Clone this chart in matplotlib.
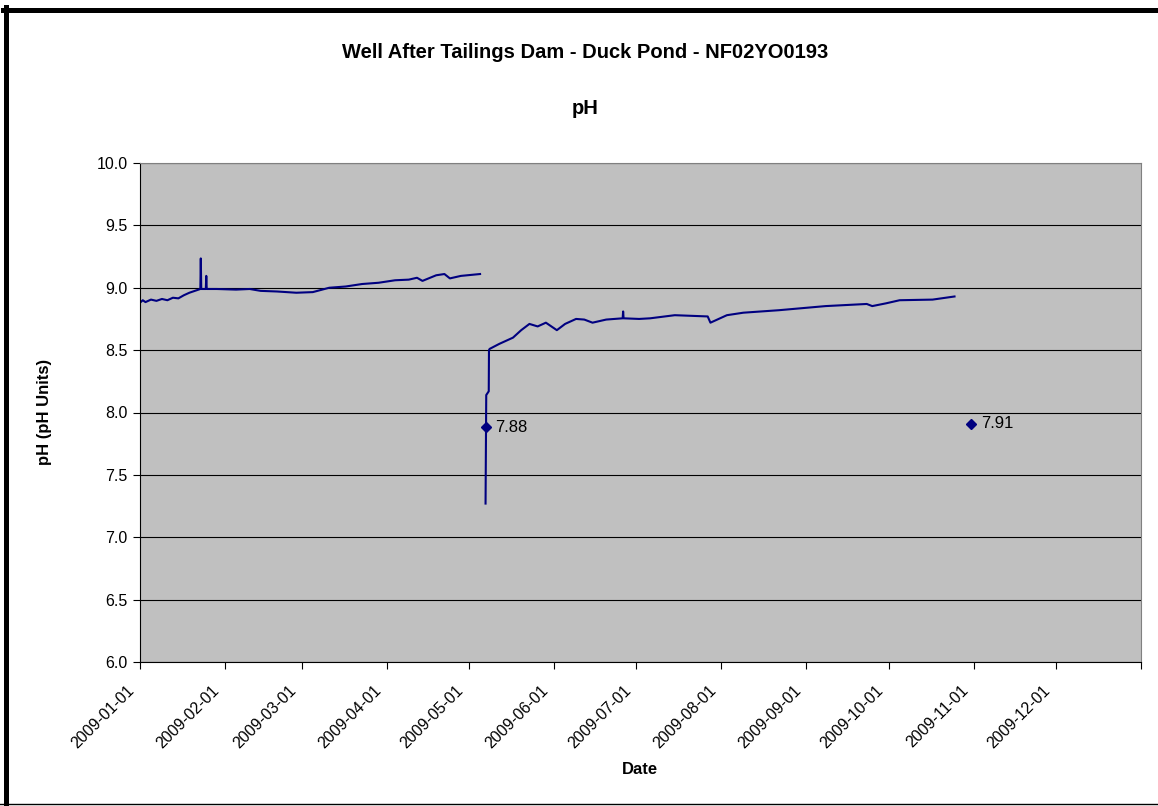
import matplotlib
matplotlib.use('Agg')
import matplotlib.pyplot as plt
import matplotlib.dates as mdates
import matplotlib.transforms as mtransforms
from matplotlib.lines import Line2D
import pandas as pd

plt.rcParams['font.family'] = ['Liberation Sans', 'DejaVu Sans']

# continuous logger, before the gap
dates_a = ['2009-01-01', '2009-01-02', '2009-01-03', '2009-01-05', '2009-01-07', '2009-01-09',
           '2009-01-11', '2009-01-13', '2009-01-15', '2009-01-17', '2009-01-19',
           '2009-01-21', '2009-01-23 00:00', '2009-01-23 04:00', '2009-01-23 08:00',
           '2009-01-25 00:00', '2009-01-25 04:00', '2009-01-25 08:00', '2009-01-29',
           '2009-02-05', '2009-02-10', '2009-02-14', '2009-02-20', '2009-02-27', '2009-03-05',
           '2009-03-11', '2009-03-17', '2009-03-23', '2009-03-29', '2009-04-04', '2009-04-09',
           '2009-04-12', '2009-04-14', '2009-04-19', '2009-04-22', '2009-04-24', '2009-04-28',
           '2009-05-05']
ph_a = [8.88, 8.90, 8.885, 8.905, 8.895, 8.91,
        8.90, 8.92, 8.915, 8.94, 8.96,
        8.975, 8.99, 9.235, 8.99,
        8.99, 9.095, 8.99, 8.99,
        8.985, 8.99, 8.975, 8.97, 8.96, 8.965,
        9.00, 9.01, 9.03, 9.04, 9.06, 9.065,
        9.08, 9.055, 9.10, 9.11, 9.075, 9.095,
        9.11]

# continuous logger, after the gap
dates_b = ['2009-05-07 00:00', '2009-05-07 06:00', '2009-05-08 04:00', '2009-05-08 06:00',
           '2009-05-08 12:00', '2009-05-12', '2009-05-17', '2009-05-20', '2009-05-23',
           '2009-05-26', '2009-05-29', '2009-06-02', '2009-06-05', '2009-06-09', '2009-06-12',
           '2009-06-15', '2009-06-20', '2009-06-26 00:00', '2009-06-26 04:00',
           '2009-06-26 08:00', '2009-07-02', '2009-07-06', '2009-07-15', '2009-07-27',
           '2009-07-28', '2009-08-03', '2009-08-09', '2009-08-22', '2009-09-08', '2009-09-23',
           '2009-09-25', '2009-09-30', '2009-10-05', '2009-10-17', '2009-10-25']
ph_b = [7.27, 8.14, 8.17, 8.50,
        8.51, 8.55, 8.60, 8.66, 8.71,
        8.69, 8.72, 8.66, 8.71, 8.75, 8.745,
        8.72, 8.745, 8.755, 8.81,
        8.755, 8.75, 8.755, 8.78, 8.77,
        8.72, 8.78, 8.80, 8.82, 8.853, 8.87,
        8.853, 8.875, 8.90, 8.905, 8.93]

# lab samples
sample_dates = ['2009-05-07', '2009-10-31']
sample_ph = [7.88, 7.91]

navy = '#000080'
W, H = 1158, 806

fig = plt.figure(figsize=(W / 100, H / 100), dpi=100)
ax = fig.add_axes([140 / W, 1 - 662 / H, 1001 / W, 499 / H])
ax.set_facecolor('#C0C0C0')

ax.plot(pd.to_datetime(dates_a, format='mixed'), ph_a, color=navy, lw=1.5)
ax.plot(pd.to_datetime(dates_b, format='mixed'), ph_b, color=navy, lw=1.5)
sd = pd.to_datetime(sample_dates)
ax.plot(sd, sample_ph, 'D', color=navy, ms=5.5, ls='none', zorder=5)
for d, v in zip(sd, sample_ph):
    ax.annotate('%.2f' % v, (mdates.date2num(d), v), xytext=(7, 0), textcoords='offset points',
                va='center', ha='left', fontsize=12)

ax.set_xlim(pd.Timestamp('2009-01-01'), pd.Timestamp('2010-01-01'))
ax.set_ylim(6, 10)
ax.set_yticks([6.0, 6.5, 7.0, 7.5, 8.0, 8.5, 9.0, 9.5, 10.0])
ax.yaxis.set_major_formatter(plt.FormatStrFormatter('%.1f'))
months = pd.date_range('2009-01-01', '2010-01-01', freq='MS')
ax.set_xticks(mdates.date2num(months))
ax.set_xticklabels([m.strftime('%Y-%m-%d') for m in months[:-1]] + [''])
ax.tick_params(axis='y', labelsize=11.5, length=5, direction='out', pad=4)
ax.tick_params(axis='x', labelsize=11.5, length=5, direction='out', pad=13.5)
shift = mtransforms.ScaledTranslation(-8 / 100, 0, fig.dpi_scale_trans)
for lab in ax.get_xticklabels():
    lab.set_rotation(45)
    lab.set_ha('right')
    lab.set_va('center')
    lab.set_rotation_mode('anchor')
    lab.set_transform(lab.get_transform() + shift)
ax.grid(axis='y', color='black', lw=0.8)
ax.set_axisbelow(True)
for s in ['top', 'right']:
    ax.spines[s].set_color('#808080')
for s in ['left', 'bottom']:
    ax.spines[s].set_color('black')

fig.text(585 / W, 1 - 58 / H, 'Well After Tailings Dam - Duck Pond - NF02YO0193',
         ha='center', va='baseline', fontsize=14.5, fontweight='bold')
fig.text(585 / W, 1 - 114 / H, 'pH', ha='center', va='baseline', fontsize=14.5, fontweight='bold')
fig.text(44 / W, 1 - 412 / H, 'pH (pH Units)', ha='center', va='center', rotation=90,
         fontsize=12, fontweight='bold')
fig.text(640 / W, 1 - 770 / H, 'Date', ha='center', va='center', fontsize=12, fontweight='bold')

# chart frame (left and top thick, bottom thin; right side cut off)
fig.lines.append(Line2D([5.5 / W, 5.5 / W], [0, 1 - 7 / H], transform=fig.transFigure,
                        color='black', lw=3.6))
fig.lines.append(Line2D([3 / W, 1], [1 - 9.5 / H, 1 - 9.5 / H], transform=fig.transFigure,
                        color='black', lw=3.6))
fig.lines.append(Line2D([0, 1], [1 - 803.5 / H, 1 - 803.5 / H], transform=fig.transFigure,
                        color='black', lw=1))

fig.savefig('out.png', dpi=100)
